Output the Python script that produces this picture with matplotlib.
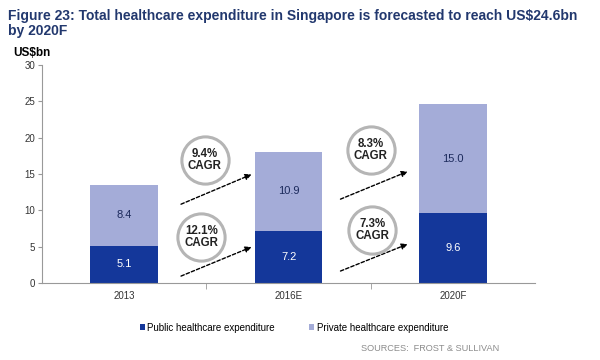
import matplotlib
matplotlib.use("Agg")
import matplotlib.pyplot as plt

years = ["2013", "2016E", "2020F"]
public = [5.1, 7.2, 9.6]
private = [8.4, 10.9, 15.0]
cagr_private = ["9.4%\nCAGR", "8.3%\nCAGR"]
cagr_public = ["12.1%\nCAGR", "7.3%\nCAGR"]

dark = "#14379a"
light = "#a4acd8"

plt.rcParams['font.family'] = ['Liberation Sans', 'DejaVu Sans']

fig = plt.figure(figsize=(6, 3.6), dpi=100)
ax = fig.add_axes([0.07, 0.214, 0.822, 0.605])

x = list(range(len(years)))
ax.bar(x, public, width=0.41, color=dark, label="Public healthcare expenditure")
ax.bar(x, private, width=0.41, bottom=public, color=light,
       label="Private healthcare expenditure")

for i in x:
    ax.text(i, public[i] / 2, f"{public[i]:.1f}", ha="center", va="center",
            color="white", fontsize=8)
    ax.text(i, public[i] + private[i] / 2, f"{private[i]:.1f}", ha="center",
            va="center", color="#1c2a5c", fontsize=8)

ax.set_xlim(-0.5, 2.5)
ax.set_ylim(0, 30)
ax.set_yticks(range(0, 31, 5))
ax.set_xticks(x)
ax.set_xticklabels(years)
ax.set_xticks([0.5, 1.5], minor=True)
ax.tick_params(axis="x", which="major", length=0, labelsize=7, pad=6,
               labelcolor="#333333")
ax.tick_params(axis="x", which="minor", length=4, color="#999999")
ax.tick_params(axis="y", labelsize=7, length=3, color="#999999", pad=2,
               labelcolor="#333333")
for s in ["top", "right"]:
    ax.spines[s].set_visible(False)
for s in ["left", "bottom"]:
    ax.spines[s].set_color("#999999")

# CAGR circles and dashed arrows between bars
arrows = [((0.33, 10.7), (0.79, 15.1)), ((0.33, 0.8), (0.79, 5.1)),
          ((1.30, 11.4), (1.74, 15.5)), ((1.30, 1.5), (1.74, 5.5))]
for (a, b) in arrows:
    ax.annotate("", xy=b, xytext=a,
                arrowprops=dict(arrowstyle="-|>", linestyle=(0, (2.5, 1.5)),
                                color="black", lw=1, mutation_scale=9))

circles = [(0.49, 16.9, cagr_private[0]), (0.47, 6.3, cagr_public[0]),
           (1.5, 18.3, cagr_private[1]), (1.51, 7.3, cagr_public[1])]
for cx, cy, t in circles:
    ax.plot(cx, cy, "o", ms=34, mfc="white", mec="#b5b5b5", mew=2.2,
            clip_on=False, zorder=3)
    ax.text(cx, cy, t, ha="center", va="center", fontsize=8.3,
            fontweight="bold", color="#222222", zorder=4, linespacing=1.0)

ax.text(-0.02, 1.04, "US$bn", transform=ax.transAxes, ha="center",
        fontsize=8.5, fontweight="bold")

fig.text(0.013, 0.975, "Figure 23: Total healthcare expenditure in Singapore is forecasted to reach US$24.6bn\nby 2020F",
         ha="left", va="top", fontsize=10, fontweight="bold", color="#22386e",
         linespacing=1.1)

leg = fig.legend(loc="center", bbox_to_anchor=(0.49, 0.09), ncol=2,
                 frameon=False, fontsize=7, handlelength=0.5, handleheight=0.5,
                 columnspacing=3.5, handletextpad=0.3)

fig.text(0.832, 0.02, "SOURCES:  FROST & SULLIVAN", ha="right", va="bottom",
         fontsize=6.6, color="#8c8c8c")

fig.savefig("out.png", dpi=100)
